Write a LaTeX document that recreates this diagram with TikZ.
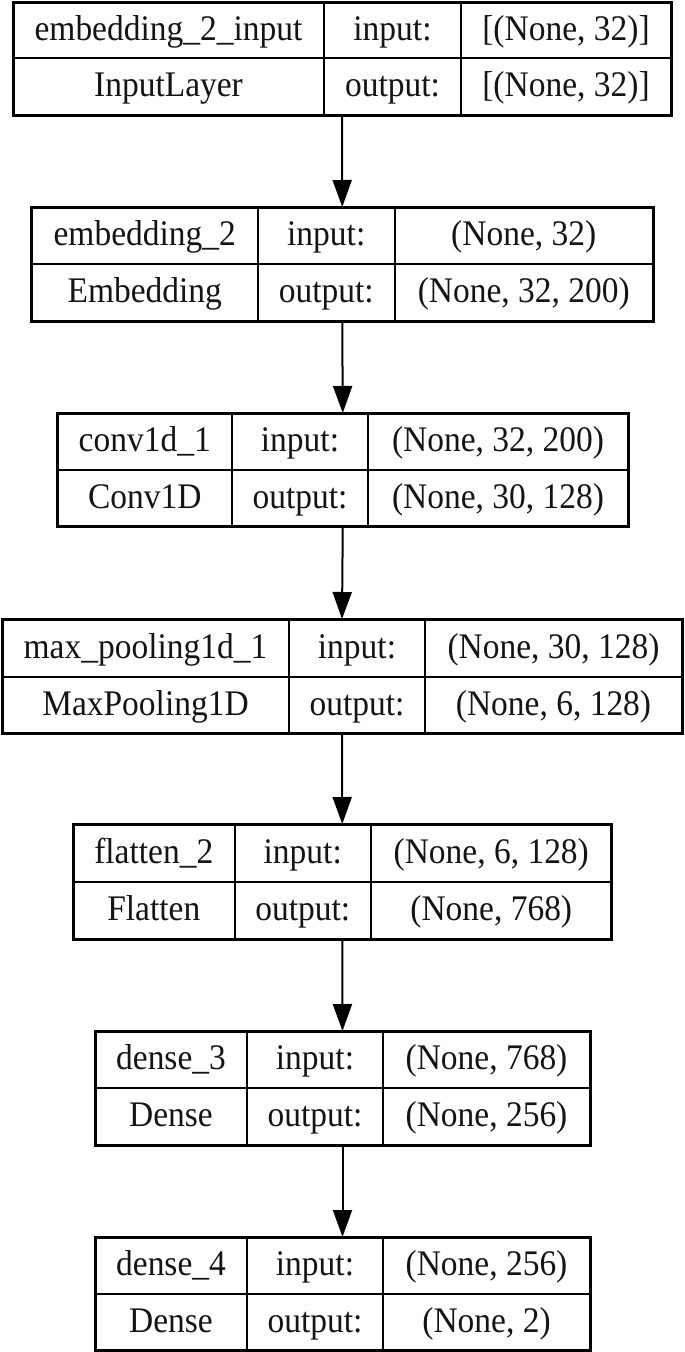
\documentclass[tikz,border=0pt]{standalone}
\usepackage{fontspec}
\setmainfont{Liberation Serif}
\newfontfamily\gvfont[FakeStretch=0.93]{Liberation Serif}
\usetikzlibrary{arrows.meta}
\tikzset{
  cell/.style={draw, line width=2pt, inner sep=0pt, outer sep=0pt, anchor=center,
    font=\gvfont\fontsize{36}{42}\selectfont, text height=27pt, text depth=7pt, text=black!92},
  outerbox/.style={draw, line width=3pt, inner sep=0pt, outer sep=0pt},
  arr/.style={line width=2pt, -{Triangle[length=27pt, width=19pt]}}
}
% geometry: column edges x (4), row edges y downward (3)
\newcommand{\setgeom}[7]{\def\gxa{#1}\def\gxb{#2}\def\gxc{#3}\def\gxd{#4}\def\gya{#5}\def\gyb{#6}\def\gyc{#7}}
% #1 id, #2 name, #3 type, #4 in, #5 out
\newcommand{\mylayer}[5]{%
  \node[cell, minimum width={(\gxb-\gxa)*1pt}, minimum height={(\gyb-\gya)*1pt}] (#1a) at ({(\gxa+\gxb)/2},{-(\gya+\gyb)/2}) {#2};
  \node[cell, minimum width={(\gxc-\gxb)*1pt}, minimum height={(\gyb-\gya)*1pt}] (#1b) at ({(\gxb+\gxc)/2},{-(\gya+\gyb)/2}) {input:};
  \node[cell, minimum width={(\gxd-\gxc)*1pt}, minimum height={(\gyb-\gya)*1pt}] (#1c) at ({(\gxc+\gxd)/2},{-(\gya+\gyb)/2}) {#4};
  \node[cell, minimum width={(\gxb-\gxa)*1pt}, minimum height={(\gyc-\gyb)*1pt}] (#1d) at ({(\gxa+\gxb)/2},{-(\gyb+\gyc)/2}) {#3};
  \node[cell, minimum width={(\gxc-\gxb)*1pt}, minimum height={(\gyc-\gyb)*1pt}] (#1e) at ({(\gxb+\gxc)/2},{-(\gyb+\gyc)/2}) {output:};
  \node[cell, minimum width={(\gxd-\gxc)*1pt}, minimum height={(\gyc-\gyb)*1pt}] (#1f) at ({(\gxc+\gxd)/2},{-(\gyb+\gyc)/2}) {#5};
  \node[outerbox, minimum width={(\gxd-\gxa)*1pt}, minimum height={(\gyc-\gya)*1pt}] (#1) at ({(\gxa+\gxd)/2},{-(\gya+\gyc)/2}) {};
}
\begin{document}
\begin{tikzpicture}[x=1pt,y=1pt]
\useasboundingbox (0,0) rectangle (685,-1352);
\setgeom{13}{324}{461}{671}{2}{58}{115}
\mylayer{L1}{embedding\_2\_input}{InputLayer}{[(None, 32)]}{[(None, 32)]}
\setgeom{31.5}{258}{394.5}{653}{207}{264}{321}
\mylayer{L2}{embedding\_2}{Embedding}{(None, 32)}{(None, 32, 200)}
\setgeom{57.5}{232}{368}{628}{413}{470}{526}
\mylayer{L3}{conv1d\_1}{Conv1D}{(None, 32, 200)}{(None, 30, 128)}
\setgeom{2}{289}{425}{682}{619}{677}{733}
\mylayer{L4}{max\_pooling1d\_1}{MaxPooling1D}{(None, 30, 128)}{(None, 6, 128)}
\setgeom{73}{234.5}{371}{611.5}{824}{882}{939}
\mylayer{L5}{flatten\_2}{Flatten}{(None, 6, 128)}{(None, 768)}
\setgeom{95}{247}{383}{590}{1031}{1088}{1145}
\mylayer{L6}{dense\_3}{Dense}{(None, 768)}{(None, 256)}
\setgeom{95}{247}{383}{590}{1237}{1294}{1350}
\mylayer{L7}{dense\_4}{Dense}{(None, 256)}{(None, 2)}
\draw[arr] (L1.south) -- (L2.north);
\draw[arr] (L2.south) -- (L3.north);
\draw[arr] (L3.south) -- (L4.north);
\draw[arr] (L4.south) -- (L5.north);
\draw[arr] (L5.south) -- (L6.north);
\draw[arr] (L6.south) -- (L7.north);
\end{tikzpicture}
\end{document}
